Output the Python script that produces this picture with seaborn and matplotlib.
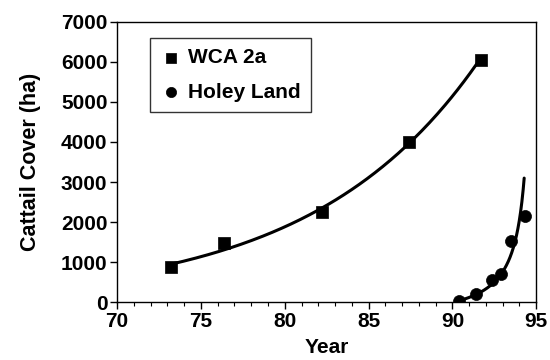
import numpy as np
import pandas as pd
import matplotlib
matplotlib.use("Agg")
import matplotlib.pyplot as plt
import seaborn as sns
from matplotlib.ticker import MultipleLocator

# data
wca_year = [73.2, 76.35, 82.2, 87.4, 91.7]
wca_cover = [880, 1470, 2245, 4010, 6050]
holey_year = [90.4, 91.4, 92.35, 92.9, 93.5, 94.3]
holey_cover = [25, 200, 565, 700, 1525, 2165]

# trend line of Holey Land as drawn in the figure
holey_trend_year = [90.47, 91.36, 92.36, 92.85, 93.45, 93.94, 94.28]
holey_trend_cover = [20, 190, 480, 690, 1145, 1895, 3105]

sns.set_style("ticks")
plt.rcParams['font.family'] = ['Liberation Sans', 'DejaVu Sans']
plt.rcParams['font.weight'] = 'bold'
plt.rcParams['text.color'] = 'black'
plt.rcParams['axes.labelcolor'] = 'black'

# exponential fit for WCA 2a
b1, a1 = np.polyfit(wca_year, np.log(wca_cover), 1)
x1 = np.linspace(min(wca_year), max(wca_year), 200)
fit1 = pd.DataFrame({'Year': x1, 'Cover': np.exp(a1 + b1 * x1)})

# smooth curve y = a/(K-x) + c through the Holey Land trend values
ty = np.array(holey_trend_year)
tc = np.array(holey_trend_cover)
best = None
for K in np.linspace(94.5, 97.0, 251):
    A = np.column_stack([1.0 / (K - ty), np.ones_like(ty)])
    coef = np.linalg.lstsq(A, tc, rcond=None)[0]
    err = np.sum((A @ coef - tc) ** 2)
    if best is None or err < best[0]:
        best = (err, K, coef)
_, K2, (a2, c2) = best
x2 = np.linspace(ty.min() - 0.1, ty.max(), 200)
fit2 = pd.DataFrame({'Year': x2, 'Cover': np.clip(a2 / (K2 - x2) + c2, 0, None)})

fig, ax = plt.subplots(figsize=(5.5, 3.6), dpi=100)

sns.lineplot(data=fit1, x='Year', y='Cover', color='black', lw=2.2, ax=ax, legend=False)
sns.lineplot(data=fit2, x='Year', y='Cover', color='black', lw=2.2, ax=ax, legend=False)
sns.scatterplot(x=wca_year, y=wca_cover, marker='s', s=75, color='black',
                edgecolor='black', linewidth=0.5, label='WCA 2a', ax=ax, zorder=3)
sns.scatterplot(x=holey_year, y=holey_cover, marker='o', s=75, color='black',
                edgecolor='black', linewidth=0.5, label='Holey Land', ax=ax, zorder=3)

ax.set_xlim(70, 95)
ax.set_ylim(0, 7000)
ax.xaxis.set_major_locator(MultipleLocator(5))
ax.xaxis.set_minor_locator(MultipleLocator(1))
ax.yaxis.set_major_locator(MultipleLocator(1000))
ax.tick_params(axis='both', which='major', labelsize=15, length=5, width=1,
               colors='black', pad=2)
ax.tick_params(axis='x', which='minor', length=3, width=0.8, colors='black')
for lbl in ax.get_xticklabels() + ax.get_yticklabels():
    lbl.set_fontweight('bold')
for sp in ax.spines.values():
    sp.set_color('black')
    sp.set_linewidth(1)

ax.set_xlabel('Year', fontsize=15, fontweight='bold', labelpad=5, color='black')
ax.set_ylabel('Cattail Cover (ha)', fontsize=15.5, fontweight='bold', labelpad=14,
              color='black')

leg = ax.legend(loc='upper left', bbox_to_anchor=(0.079, 0.943), borderaxespad=0,
                frameon=True, fancybox=False, edgecolor='black',
                prop={'size': 15, 'weight': 'bold'},
                handletextpad=0.3, borderpad=0.5, labelspacing=0.75,
                handlelength=1.0, markerscale=0.85)
leg.get_frame().set_linewidth(1)
for t in leg.get_texts():
    t.set_color('black')

plt.subplots_adjust(left=0.213, right=0.975, top=0.94, bottom=0.16)
plt.savefig('out.png', dpi=100)
